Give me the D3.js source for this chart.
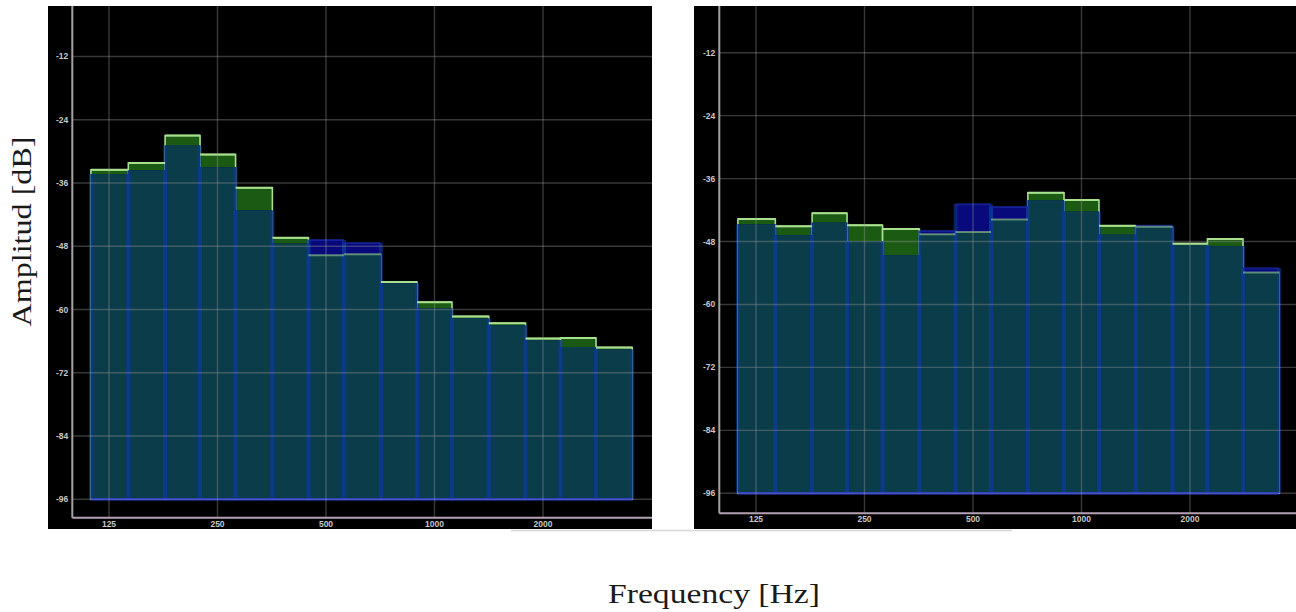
<!DOCTYPE html>
<html>
<head>
<meta charset="utf-8">
<script src="https://cdn.jsdelivr.net/npm/d3@7"></script>
<style>
  html, body { margin: 0; padding: 0; background: #ffffff; }
  svg { display: block; }
</style>
</head>
<body>
<svg id="chart" width="1296" height="612"></svg>
<script>
// ---------- DATA ----------
const bandLabels = ["125","160","200","250","315","400","500","630","800","1000","1250","1600","2000","2500","3150"];
const bandFreqs  = [125,160,200,250,315,400,500,630,800,1000,1250,1600,2000,2500,3150];

const leftGreen  = [-33.5,-32.2,-27.0,-30.6,-36.9,-46.4,-49.7,-49.5,-54.8,-58.6,-61.3,-62.6,-65.5,-65.4,-67.2];
const leftBlue   = [-34.3,-33.6,-28.9,-33.0,-41.2,-47.5,-46.8,-47.4,-55.0,-59.8,-61.7,-63.0,-65.8,-67.1,-67.6];

const rightGreen = [-43.7,-45.1,-42.6,-44.9,-45.6,-46.6,-46.2,-43.8,-38.7,-40.1,-45.0,-45.2,-48.4,-47.5,-53.9];
const rightBlue  = [-44.7,-46.8,-44.4,-47.9,-50.6,-46.0,-40.9,-41.4,-40.1,-42.3,-46.7,-45.0,-48.6,-48.9,-53.1];

const xTickValues = [125,250,500,1000,2000];
const xTickLabels = ["125","250","500","1000","2000"];
const yTickValues = [-12,-24,-36,-48,-60,-72,-84,-96];
const yTickLabels = ["-12","-24","-36","-48","-60","-72","-84","-96"];
const floorDb = -96;

const xTitle = "Frequency [Hz]";
const yTitle = "Amplitud [dB]";

// ---------- LAYOUT ----------
const panels = [
  { bg:[48,6,652,529], axisX:72.3, axisY:517.7, xr:[109,543], yr:[56.5,499.3], green:leftGreen, blue:leftBlue },
  { bg:[694,6,1296,529], axisX:719.3, axisY:513.3, xr:[756,1190], yr:[52.7,493.3], green:rightGreen, blue:rightBlue }
];

const C = {
  greenFill:"#1b5a12", greenLine:"#a8e08e",
  navy:"#08097a", teal:"#0b3c49", blueEdge:"#0c3a96", blueBottom:"#1a2fc8",
  grid:"#9a9a9a", axis:"#a3a3a3", xaxis:"#b4a2b4", tick:"#c8c8c8"
};

const svg = d3.select("#chart");

// faint photo edge line under the panels
svg.append("line").attr("x1",511).attr("x2",1012).attr("y1",530.5).attr("y2",530.5)
  .attr("stroke","#d6d6d6").attr("stroke-width",1.5);

panels.forEach((p, pi) => {
  const g = svg.append("g");
  const [bx0,by0,bx1,by1] = p.bg;
  const clipId = "clip"+pi;
  svg.append("clipPath").attr("id",clipId).append("rect")
    .attr("x",bx0).attr("y",by0).attr("width",bx1-bx0).attr("height",by1-by0);
  g.attr("clip-path",`url(#${clipId})`);

  g.append("rect").attr("x",bx0).attr("y",by0).attr("width",bx1-bx0).attr("height",by1-by0).attr("fill","#000");

  const x = d3.scaleLog().base(2).domain([125,2000]).range(p.xr);
  const y = d3.scaleLinear().domain([-12,-96]).range(p.yr);

  const n = bandFreqs.length;
  const lo = bandFreqs.map((f,i) => i===0 ? f/Math.pow(2,1/6) : Math.sqrt(bandFreqs[i-1]*f));
  const hi = bandFreqs.map((f,i) => i===n-1 ? f*Math.pow(2,1/6) : Math.sqrt(bandFreqs[i+1]*f));

  const data = bandLabels.map((b,i) => ({
    b, x0:x(lo[i]), x1:x(hi[i]), gv:p.green[i], bv:p.blue[i]
  }));
  const yb = y(floorDb);

  // green bars
  g.append("g").selectAll("rect").data(data).join("rect")
    .attr("x",d=>d.x0).attr("width",d=>d.x1-d.x0)
    .attr("y",d=>y(d.gv)).attr("height",d=>yb-y(d.gv))
    .attr("fill",C.greenFill).attr("stroke",C.greenLine).attr("stroke-width",1.6);

  // blue bars
  g.append("g").selectAll("rect").data(data).join("rect")
    .attr("x",d=>d.x0).attr("width",d=>d.x1-d.x0)
    .attr("y",d=>y(d.bv)).attr("height",d=>yb-y(d.bv))
    .attr("fill",C.navy);

  // overlap
  g.append("g").selectAll("rect").data(data).join("rect")
    .attr("x",d=>d.x0).attr("width",d=>d.x1-d.x0)
    .attr("y",d=>y(Math.min(d.gv,d.bv))).attr("height",d=>yb-y(Math.min(d.gv,d.bv)))
    .attr("fill",C.teal);

  // blue side edges
  g.append("g").selectAll("path").data(data).join("path")
    .attr("d",d=>`M${d.x0},${yb}V${y(d.bv)}M${d.x1},${y(d.bv)}V${yb}`)
    .attr("fill","none").attr("stroke",C.blueEdge).attr("stroke-width",4).attr("stroke-opacity",0.6);
  // blue top edge where blue is on top
  g.append("g").selectAll("line").data(data.filter(d=>d.bv>d.gv)).join("line")
    .attr("x1",d=>d.x0).attr("x2",d=>d.x1).attr("y1",d=>y(d.bv)).attr("y2",d=>y(d.bv))
    .attr("stroke","#1a2aa8").attr("stroke-width",2).attr("stroke-opacity",0.7);

  // bottom blue line
  g.append("line").attr("x1",data[0].x0).attr("x2",data[n-1].x1).attr("y1",yb).attr("y2",yb)
    .attr("stroke",C.blueBottom).attr("stroke-width",2.5);

  // green top lines
  g.append("g").selectAll("line").data(data).join("line")
    .attr("x1",d=>d.x0).attr("x2",d=>d.x1).attr("y1",d=>y(d.gv)).attr("y2",d=>y(d.gv))
    .attr("stroke",C.greenLine).attr("stroke-width",2)
    .attr("stroke-opacity",d=>d.gv>=d.bv?1:0.55);

  // grid
  g.append("g").selectAll("line").data(yTickValues).join("line")
    .attr("x1",p.axisX).attr("x2",bx1).attr("y1",d=>y(d)).attr("y2",d=>y(d))
    .attr("stroke",C.grid).attr("stroke-width",1.4).attr("stroke-opacity",0.36);
  g.append("g").selectAll("line").data(xTickValues).join("line")
    .attr("x1",d=>x(d)).attr("x2",d=>x(d)).attr("y1",by0).attr("y2",p.axisY)
    .attr("stroke",C.grid).attr("stroke-width",1.4).attr("stroke-opacity",0.36);

  // axes lines
  g.append("line").attr("x1",p.axisX).attr("x2",p.axisX).attr("y1",by0).attr("y2",p.axisY)
    .attr("stroke",C.axis).attr("stroke-width",2);
  g.append("line").attr("x1",p.axisX).attr("x2",bx1).attr("y1",p.axisY).attr("y2",p.axisY)
    .attr("stroke",C.xaxis).attr("stroke-width",2);

  // tick labels
  g.append("g").selectAll("text").data(yTickValues).join("text")
    .attr("x",p.axisX-4).attr("y",d=>y(d)).attr("dy","0.35em")
    .attr("text-anchor","end").attr("font-family","Liberation Sans, Arial, sans-serif")
    .attr("font-size",8.5).attr("font-weight","bold").attr("fill",C.tick)
    .text((d,i)=>yTickLabels[i]);
  g.append("g").selectAll("text").data(xTickValues).join("text")
    .attr("x",d=>x(d)).attr("y",p.axisY+6).attr("dy","0.35em")
    .attr("text-anchor","middle").attr("font-family","Liberation Sans, Arial, sans-serif")
    .attr("font-size",8.5).attr("font-weight","bold").attr("fill",C.tick)
    .text((d,i)=>xTickLabels[i]);
});

// titles
svg.append("text").attr("x",714).attr("y",603).attr("text-anchor","middle")
  .attr("font-family","Liberation Serif, Times New Roman, serif").attr("font-size",27)
  .attr("fill","#1a1a1a").attr("textLength",212).attr("lengthAdjust","spacingAndGlyphs")
  .text(xTitle);
svg.append("text").attr("transform","translate(31,231.5) rotate(-90)").attr("text-anchor","middle")
  .attr("font-family","Liberation Serif, Times New Roman, serif").attr("font-size",27)
  .attr("fill","#1a1a1a").attr("textLength",190).attr("lengthAdjust","spacingAndGlyphs")
  .text(yTitle);
</script>
</body>
</html>
